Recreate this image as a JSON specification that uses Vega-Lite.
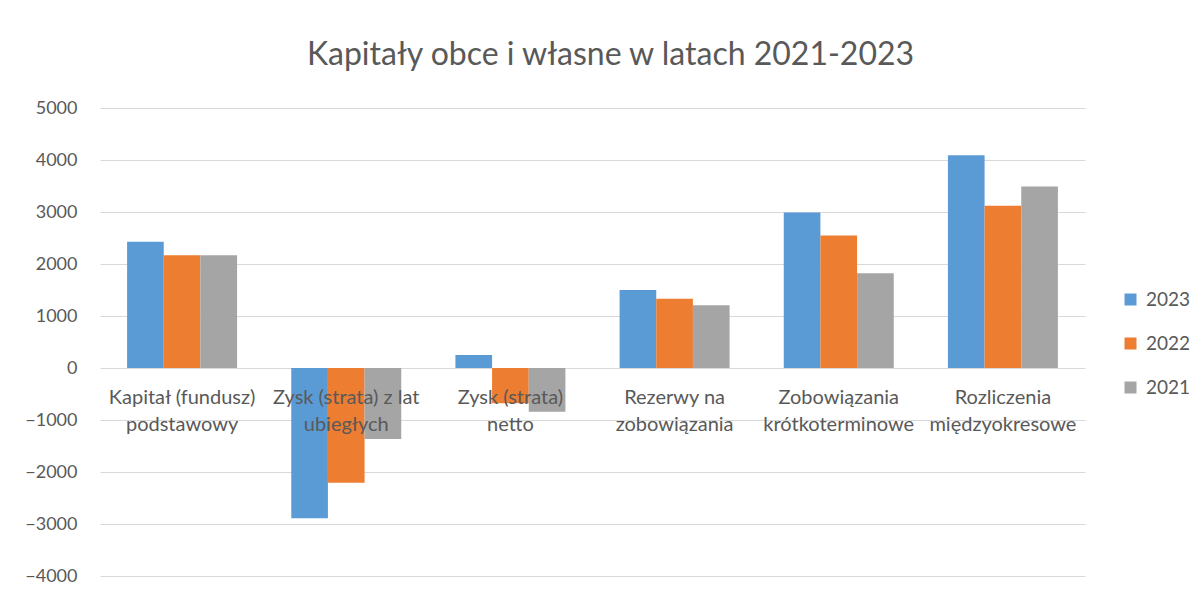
{
  "$schema": "https://vega.github.io/schema/vega-lite/v6.json",
  "autosize": {"type": "none"},
  "width": 985,
  "height": 468,
  "padding": {"left": 100, "top": 108, "right": 118, "bottom": 21},
  "background": "white",
  "title": {
    "text": "Kapitały obce i własne w latach 2021-2023",
    "font": "Lato",
    "fontSize": 32,
    "fontWeight": "normal",
    "color": "#595959",
    "anchor": "middle",
    "dx": 18,
    "offset": 27
  },
  "data": {
    "values": [
      {"kategoria": "Kapitał (fundusz) podstawowy", "rok": "2023", "wartosc": 2430},
      {"kategoria": "Kapitał (fundusz) podstawowy", "rok": "2022", "wartosc": 2170},
      {"kategoria": "Kapitał (fundusz) podstawowy", "rok": "2021", "wartosc": 2170},
      {"kategoria": "Zysk (strata) z lat ubiegłych", "rok": "2023", "wartosc": -2890},
      {"kategoria": "Zysk (strata) z lat ubiegłych", "rok": "2022", "wartosc": -2205},
      {"kategoria": "Zysk (strata) z lat ubiegłych", "rok": "2021", "wartosc": -1365},
      {"kategoria": "Zysk (strata) netto", "rok": "2023", "wartosc": 250},
      {"kategoria": "Zysk (strata) netto", "rok": "2022", "wartosc": -680},
      {"kategoria": "Zysk (strata) netto", "rok": "2021", "wartosc": -840},
      {"kategoria": "Rezerwy na zobowiązania", "rok": "2023", "wartosc": 1500},
      {"kategoria": "Rezerwy na zobowiązania", "rok": "2022", "wartosc": 1330},
      {"kategoria": "Rezerwy na zobowiązania", "rok": "2021", "wartosc": 1205},
      {"kategoria": "Zobowiązania krótkoterminowe", "rok": "2023", "wartosc": 2990},
      {"kategoria": "Zobowiązania krótkoterminowe", "rok": "2022", "wartosc": 2550},
      {"kategoria": "Zobowiązania krótkoterminowe", "rok": "2021", "wartosc": 1820},
      {"kategoria": "Rozliczenia międzyokresowe", "rok": "2023", "wartosc": 4090},
      {"kategoria": "Rozliczenia międzyokresowe", "rok": "2022", "wartosc": 3120},
      {"kategoria": "Rozliczenia międzyokresowe", "rok": "2021", "wartosc": 3490}
    ]
  },
  "mark": {"type": "bar"},
  "encoding": {
    "x": {
      "field": "kategoria",
      "type": "nominal",
      "sort": null,
      "scale": {"paddingInner": 0.33, "paddingOuter": 0.165},
      "axis": {
        "title": null,
        "orient": "bottom",
        "offset": -208,
        "domain": false,
        "ticks": false,
        "grid": false,
        "labelAngle": 0,
        "labelFont": "Lato",
        "labelFontSize": 20,
        "labelColor": "#595959",
        "labelPadding": 19,
        "labelLineHeight": 27,
        "labelLimit": 300,
        "zindex": 1,
        "labelExpr": "[substring(datum.label, 0, lastindexof(datum.label, ' ')), substring(datum.label, lastindexof(datum.label, ' ') + 1)]"
      }
    },
    "xOffset": {"field": "rok", "type": "nominal", "sort": ["2023", "2022", "2021"]},
    "y": {
      "field": "wartosc",
      "type": "quantitative",
      "scale": {"domain": [-4000, 5000], "nice": false},
      "axis": {
        "title": null,
        "format": "d",
        "values": [-4000, -3000, -2000, -1000, 0, 1000, 2000, 3000, 4000, 5000],
        "domain": false,
        "ticks": false,
        "gridColor": "#d9d9d9",
        "gridWidth": 1.2,
        "labelFont": "Lato",
        "labelFontSize": 18,
        "labelColor": "#595959",
        "labelPadding": 23,
        "zindex": 0
      }
    },
    "color": {
      "field": "rok",
      "type": "nominal",
      "sort": ["2023", "2022", "2021"],
      "scale": {"domain": ["2023", "2022", "2021"], "range": ["#5b9bd5", "#ed7d31", "#a5a5a5"]},
      "legend": {
        "title": null,
        "orient": "none",
        "legendX": 1021,
        "legendY": 182,
        "symbolType": "square",
        "symbolSize": 144,
        "symbolStrokeWidth": 0,
        "labelFont": "Lato",
        "labelFontSize": 19,
        "labelColor": "#595959",
        "rowPadding": 24,
        "labelOffset": 6
      }
    }
  },
  "config": {"view": {"stroke": null}}
}
